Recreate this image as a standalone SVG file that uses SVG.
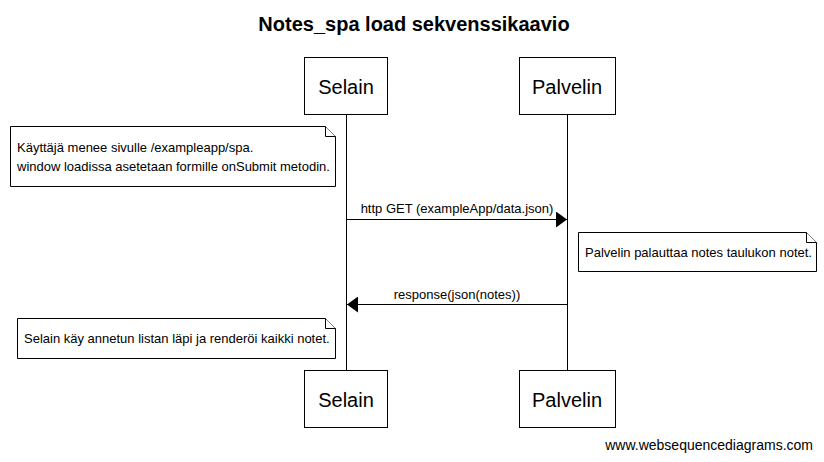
<svg xmlns="http://www.w3.org/2000/svg" width="824" height="462" viewBox="0 0 824 462">
<style>
text{font-family:"Liberation Sans",Arial,sans-serif;fill:#000}
.title{font-size:20px;font-weight:bold}
.part{font-size:20px}
.lbl{font-size:13px}
.foot{font-size:14px}
.box{fill:#fff;stroke:#000;stroke-width:1}
.life{stroke:#000;stroke-width:1}
.msg{stroke:#000;stroke-width:1;fill:none}
.note{fill:#fff;stroke:#000;stroke-width:1}
</style>
<defs>
<marker id="ah" markerWidth="11" markerHeight="16" refX="11" refY="8" orient="auto" markerUnits="userSpaceOnUse">
<path d="M0,0 L11,8 L0,16 z" fill="#000"/>
</marker>
</defs>
<rect width="824" height="462" fill="#fff"/>
<text class="title" x="414" y="31" text-anchor="middle">Notes_spa load sekvenssikaavio</text>
<g id="lifelines">
<line class="life" x1="346.5" y1="114" x2="346.5" y2="370"/>
<line class="life" x1="567.5" y1="114" x2="567.5" y2="370"/>
</g>
<g id="selain-top"><rect class="box" x="304.5" y="57.5" width="83" height="57"/><text class="part" x="346" y="94" text-anchor="middle">Selain</text></g>
<g id="palvelin-top"><rect class="box" x="519.5" y="57.5" width="96" height="57"/><text class="part" x="567" y="94" text-anchor="middle">Palvelin</text></g>
<g id="selain-bottom"><rect class="box" x="304.5" y="370.5" width="83" height="57"/><text class="part" x="346" y="407" text-anchor="middle">Selain</text></g>
<g id="palvelin-bottom"><rect class="box" x="519.5" y="370.5" width="96" height="57"/><text class="part" x="567" y="407" text-anchor="middle">Palvelin</text></g>
<g id="note1">
<path class="note" d="M10.5,126.5 H325.5 L335.5,136.5 V186.5 H10.5 Z"/>
<path class="note" d="M325.5,126.5 V136.5 H335.5"/>
<text class="lbl" x="17" y="152">Käyttäjä menee sivulle /exampleapp/spa.</text>
<text class="lbl" x="17" y="171">window loadissa asetetaan formille onSubmit metodin.</text>
</g>
<g id="note2">
<path class="note" d="M578.5,232.5 H806.5 L816.5,242.5 V271.5 H578.5 Z"/>
<path class="note" d="M806.5,232.5 V242.5 H816.5"/>
<text class="lbl" x="585" y="257">Palvelin palauttaa notes taulukon notet.</text>
</g>
<g id="note3">
<path class="note" d="M17.5,318.5 H325.5 L335.5,328.5 V358.5 H17.5 Z"/>
<path class="note" d="M325.5,318.5 V328.5 H335.5"/>
<text class="lbl" x="24" y="343">Selain käy annetun listan läpi ja renderöi kaikki notet.</text>
</g>
<g id="connectors">
<line class="msg" x1="347" y1="219.5" x2="567" y2="219.5" marker-end="url(#ah)"/>
<text class="lbl" x="457" y="213" text-anchor="middle">http GET (exampleApp/data.json)</text>
<line class="msg" x1="567" y1="304.5" x2="347" y2="304.5" marker-end="url(#ah)"/>
<text class="lbl" x="457" y="299" text-anchor="middle">response(json(notes))</text>
</g>
<text class="foot" x="813" y="450" text-anchor="end">www.websequencediagrams.com</text>
</svg>
